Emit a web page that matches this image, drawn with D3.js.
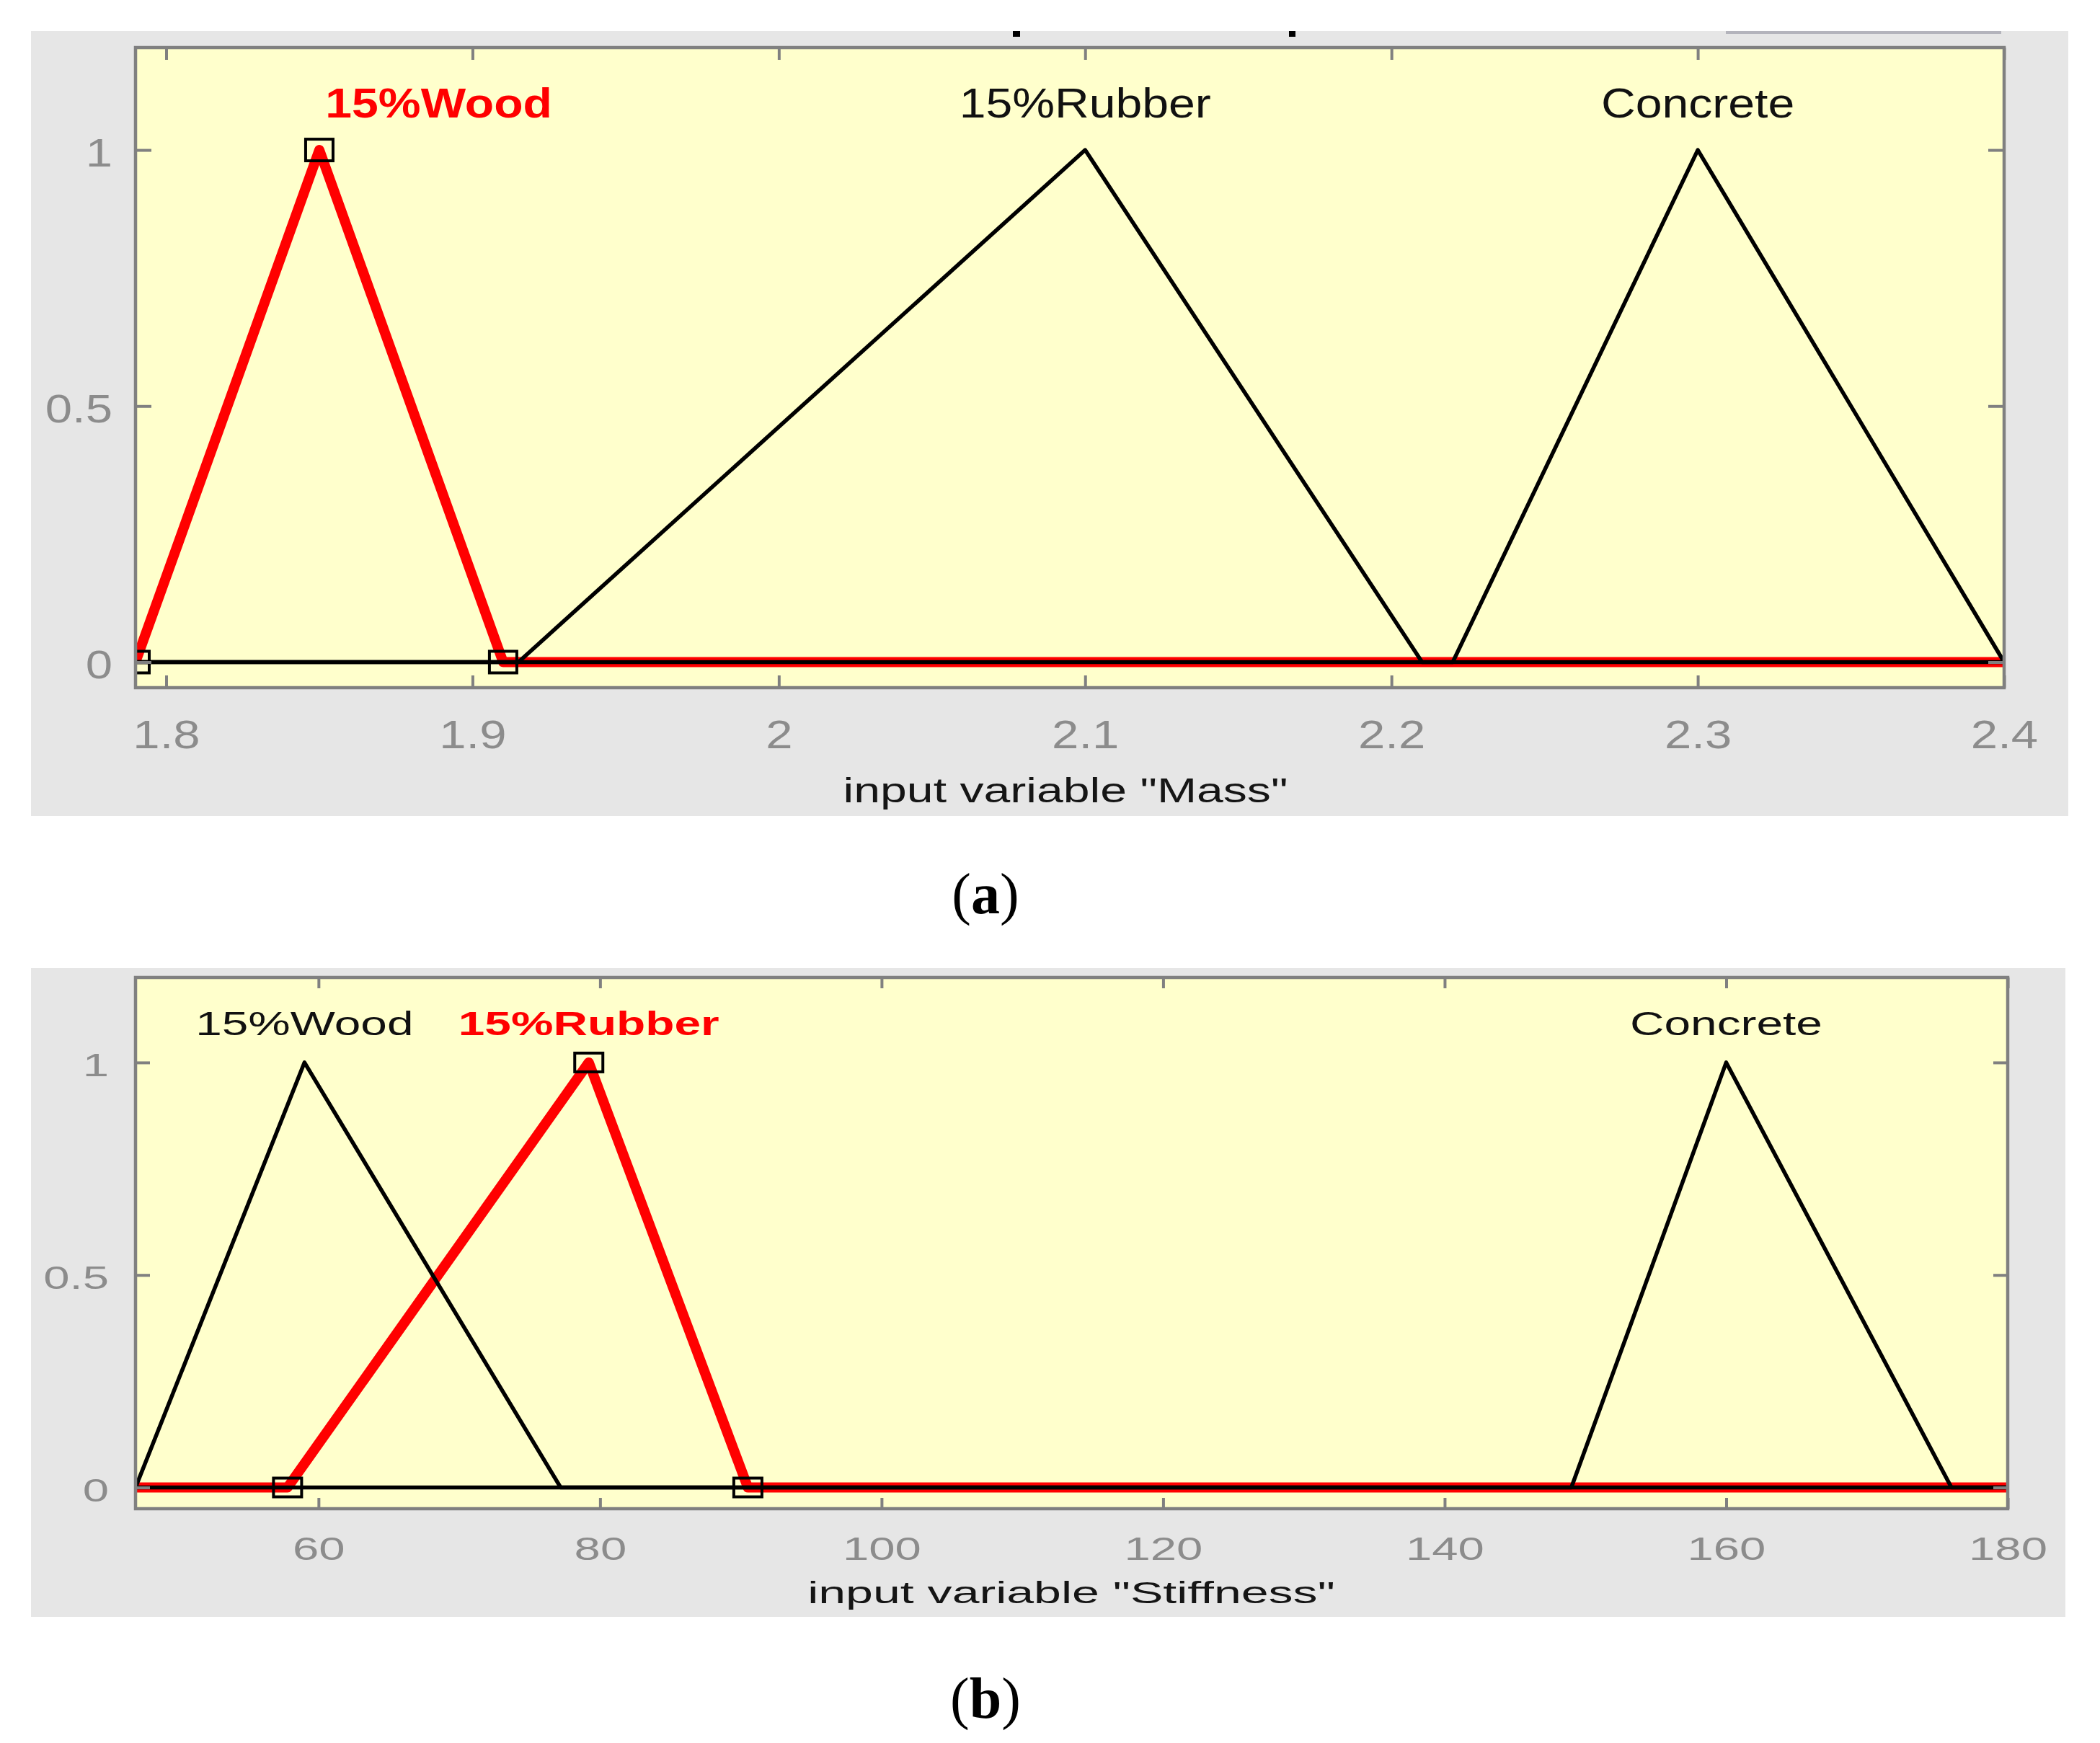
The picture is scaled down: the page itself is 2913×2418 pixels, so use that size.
<!DOCTYPE html>
<html>
<head>
<meta charset="utf-8">
<title>Membership functions: Mass and Stiffness</title>
<script src="https://cdn.jsdelivr.net/npm/d3@7"></script>
<style>
	body { margin: 0; background: #fff; }
	svg { display: block; }
	text { font-family: "Liberation Sans", Arial, sans-serif; }
</style>
</head>
<body>
<div id="chart"></div>
<script>
// Shared membership axis.
var yTicks = [ 0, 0.5, 1 ];
var yRange = [ -0.05, 1.2 ];

// Panel (a): input variable "Mass".
var massRange = [ 1.79, 2.4 ];
var massTicks = [ 1.8, 1.9, 2, 2.1, 2.2, 2.3, 2.4 ];
var massNames = [ '15%Wood', '15%Rubber', 'Concrete' ];
var massParams = [ [ 1.79, 1.85, 1.91 ], [ 1.915, 2.1, 2.21 ], [ 2.22, 2.3, 2.4 ] ];
var massLabelAt = [ 1.889, 2.1, 2.3 ];
var massSelected = 0;
var massTitle = 'input variable "Mass"';

// Panel (b): input variable "Stiffness".
var stiffRange = [ 47, 180 ];
var stiffTicks = [ 60, 80, 100, 120, 140, 160, 180 ];
var stiffNames = [ '15%Wood', '15%Rubber', 'Concrete' ];
var stiffParams = [ [ 47, 59, 77.2 ], [ 57.8, 79.2, 90.5 ], [ 149, 160, 176 ] ];
var stiffLabelAt = [ 59, 79.2, 160 ];
var stiffSelected = 1;
var stiffTitle = 'input variable "Stiffness"';

( function () {

	var W = 2913, H = 2418;
	var tickGrey = '#8c8c8c';
	var frameGrey = '#808080';

	var svg = d3.select( '#chart' ).append( 'svg' ).attr( 'width', W ).attr( 'height', H );
	svg.append( 'rect' ).attr( 'width', W ).attr( 'height', H ).attr( 'fill', '#fff' );

	// The screenshot is stretched sideways, so widen text by a factor.
	var stretch = function ( sel, k ) {
		sel.each( function () {
			var len = this.getComputedTextLength();
			d3.select( this ).attr( 'textLength', len * k ).attr( 'lengthAdjust', 'spacingAndGlyphs' );
		} );
	};

	var panel = function ( cfg ) {

		var g = svg.append( 'g' );

		// Grey figure background and the yellow axes area.
		g.append( 'rect' )
			.attr( 'x', cfg.bg[0] ).attr( 'y', cfg.bg[1] )
			.attr( 'width', cfg.bg[2] ).attr( 'height', cfg.bg[3] )
			.attr( 'fill', '#e6e6e6' );

		g.append( 'rect' )
			.attr( 'x', cfg.left ).attr( 'y', cfg.top )
			.attr( 'width', cfg.right - cfg.left ).attr( 'height', cfg.bottom - cfg.top )
			.attr( 'fill', '#ffffcc' );

		var x = d3.scaleLinear().domain( cfg.range ).range( [ cfg.left, cfg.right ] );
		var y = d3.scaleLinear().domain( yRange ).range( [ cfg.bottom, cfg.top ] );

		g.append( 'clipPath' ).attr( 'id', cfg.id + '-clip' )
			.append( 'rect' )
			.attr( 'x', cfg.left ).attr( 'y', cfg.top )
			.attr( 'width', cfg.right - cfg.left ).attr( 'height', cfg.bottom - cfg.top );

		var plot = g.append( 'g' ).attr( 'clip-path', 'url(#' + cfg.id + '-clip)' );

		var line = d3.line()
			.x( function ( d ) { return x( d[0] ); } )
			.y( function ( d ) { return y( d[1] ); } );

		// Each triangle runs over the whole range, with zero tails.
		var points = function ( p ) {
			return [ [ cfg.range[0], 0 ], [ p[0], 0 ], [ p[1], 1 ], [ p[2], 0 ], [ cfg.range[1], 0 ] ];
		};

		// Selected one first, so the black lines sit on top of its tails.
		var order = [ cfg.selected ];
		for ( var i = 0; i < cfg.params.length; i++ ) {
			if ( i !== cfg.selected ) order.push( i );
		}

		plot.selectAll( 'path.mf' )
			.data( order )
			.enter()
			.append( 'path' )
			.attr( 'class', 'mf' )
			.attr( 'd', function ( i ) { return line( points( cfg.params[i] ) ); } )
			.attr( 'fill', 'none' )
			.attr( 'stroke', function ( i ) { return i === cfg.selected ? '#ff0000' : '#000'; } )
			.attr( 'stroke-width', function ( i ) { return i === cfg.selected ? 14 : 5.5; } )
			.attr( 'stroke-linejoin', 'round' );

		// Handles on the selected function.
		var sel = cfg.params[cfg.selected];
		var handles = [ [ sel[0], 0 ], [ sel[1], 1 ], [ sel[2], 0 ] ];

		plot.selectAll( 'rect.handle' )
			.data( handles )
			.enter()
			.append( 'rect' )
			.attr( 'class', 'handle' )
			.attr( 'x', function ( d ) { return x( d[0] ) - cfg.handle[0] / 2; } )
			.attr( 'y', function ( d ) { return y( d[1] ) - cfg.handle[1] / 2; } )
			.attr( 'width', cfg.handle[0] )
			.attr( 'height', cfg.handle[1] )
			.attr( 'fill', 'none' )
			.attr( 'stroke', '#000' )
			.attr( 'stroke-width', 4 );

		// Ticks on all four sides, pointing in.
		var xAxis = d3.axisBottom( x ).tickValues( cfg.ticks ).tickSizeInner( -cfg.xTick ).tickSizeOuter( 0 ).tickFormat( d3.format( '~g' ) );
		var gx = g.append( 'g' ).attr( 'transform', 'translate( 0, ' + cfg.bottom + ' )' ).call( xAxis );

		var xTop = d3.axisTop( x ).tickValues( cfg.ticks ).tickSizeInner( -cfg.xTick ).tickSizeOuter( 0 ).tickFormat( '' );
		var gxt = g.append( 'g' ).attr( 'transform', 'translate( 0, ' + cfg.top + ' )' ).call( xTop );

		var yAxis = d3.axisLeft( y ).tickValues( yTicks ).tickSizeInner( -cfg.yTick ).tickSizeOuter( 0 ).tickPadding( cfg.left - cfg.yLabelRight ).tickFormat( d3.format( '~g' ) );
		var gy = g.append( 'g' ).attr( 'transform', 'translate( ' + cfg.left + ', 0 )' ).call( yAxis );

		var yRight = d3.axisRight( y ).tickValues( yTicks ).tickSizeInner( -cfg.yTick ).tickSizeOuter( 0 ).tickFormat( '' );
		var gyr = g.append( 'g' ).attr( 'transform', 'translate( ' + cfg.right + ', 0 )' ).call( yRight );

		[ gx, gxt, gy, gyr ].forEach( function ( a ) {
			a.select( '.domain' ).remove();
			a.selectAll( 'line' ).attr( 'stroke', frameGrey ).attr( 'stroke-width', 4 );
			a.attr( 'font-size', cfg.tickFont );
		} );

		gx.selectAll( 'text' )
			.attr( 'fill', tickGrey )
			.attr( 'y', cfg.xLabelBase - cfg.bottom )
			.attr( 'dy', 0 )
			.call( stretch, cfg.tickK );

		gy.selectAll( 'text' )
			.attr( 'fill', tickGrey )
			.attr( 'dy', cfg.yLabelDy )
			.call( stretch, cfg.tickK );

		// Frame.
		g.append( 'rect' )
			.attr( 'x', cfg.left ).attr( 'y', cfg.top )
			.attr( 'width', cfg.right - cfg.left ).attr( 'height', cfg.bottom - cfg.top )
			.attr( 'fill', 'none' )
			.attr( 'stroke', frameGrey )
			.attr( 'stroke-width', 4.5 );

		// Names of the membership functions.
		g.selectAll( 'text.name' )
			.data( cfg.names )
			.enter()
			.append( 'text' )
			.attr( 'class', 'name' )
			.attr( 'x', function ( d, i ) { return x( cfg.labelAt[i] ); } )
			.attr( 'y', cfg.nameBase )
			.attr( 'text-anchor', 'middle' )
			.attr( 'font-size', cfg.nameFont )
			.attr( 'font-weight', function ( d, i ) { return i === cfg.selected ? 'bold' : 'normal'; } )
			.attr( 'fill', function ( d, i ) { return i === cfg.selected ? '#ff0000' : '#111'; } )
			.text( function ( d ) { return d; } )
			.call( stretch, cfg.nameK );

		// Axis title.
		g.append( 'text' )
			.attr( 'x', cfg.titleX )
			.attr( 'y', cfg.titleBase )
			.attr( 'text-anchor', 'middle' )
			.attr( 'font-size', cfg.titleFont )
			.attr( 'fill', '#151515' )
			.text( cfg.title )
			.call( stretch, cfg.titleK );

		// Figure letter below the panel.
		var letter = svg.append( 'text' )
			.attr( 'x', 1367 )
			.attr( 'y', cfg.letterBase )
			.attr( 'text-anchor', 'middle' )
			.attr( 'font-size', 80 )
			.style( 'font-family', '"Liberation Serif", "Times New Roman", serif' )
			.attr( 'fill', '#000' );
		letter.append( 'tspan' ).text( '(' );
		letter.append( 'tspan' ).attr( 'font-weight', 'bold' ).text( cfg.letter );
		letter.append( 'tspan' ).text( ')' );

	};

	panel( {
		id: 'mass',
		bg: [ 43, 43, 2826, 1089 ],
		left: 188, right: 2780, top: 66, bottom: 954,
		range: massRange, ticks: massTicks,
		params: massParams, names: massNames, labelAt: massLabelAt, selected: massSelected,
		handle: [ 38, 30 ],
		xTick: 17, yTick: 22,
		tickFont: 55, tickK: 1.22, xLabelBase: 1038, yLabelRight: 156, yLabelDy: 22,
		nameFont: 57, nameK: 1.16, nameBase: 163,
		title: massTitle, titleX: 1478, titleBase: 1113, titleFont: 49, titleK: 1.35,
		letter: 'a', letterBase: 1267
	} );

	panel( {
		id: 'stiff',
		bg: [ 43, 1343, 2822, 900 ],
		left: 188, right: 2785, top: 1356, bottom: 2093,
		range: stiffRange, ticks: stiffTicks,
		params: stiffParams, names: stiffNames, labelAt: stiffLabelAt, selected: stiffSelected,
		handle: [ 39, 26 ],
		xTick: 15, yTick: 20,
		tickFont: 45, tickK: 1.45, xLabelBase: 2164, yLabelRight: 151, yLabelDy: 19,
		nameFont: 46, nameK: 1.43, nameBase: 1436,
		title: stiffTitle, titleX: 1486, titleBase: 2224, titleFont: 42, titleK: 1.62,
		letter: 'b', letterBase: 2383
	} );

	// Bits of the cropped window title and toolbar along the top edge.
	svg.append( 'rect' ).attr( 'x', 1405 ).attr( 'y', 43 ).attr( 'width', 10 ).attr( 'height', 8 ).attr( 'fill', '#000' );
	svg.append( 'rect' ).attr( 'x', 1788 ).attr( 'y', 43 ).attr( 'width', 9 ).attr( 'height', 8 ).attr( 'fill', '#000' );
	svg.append( 'rect' ).attr( 'x', 2394 ).attr( 'y', 43 ).attr( 'width', 382 ).attr( 'height', 4 ).attr( 'fill', '#b4b4bc' );

} )();
</script>
</body>
</html>
